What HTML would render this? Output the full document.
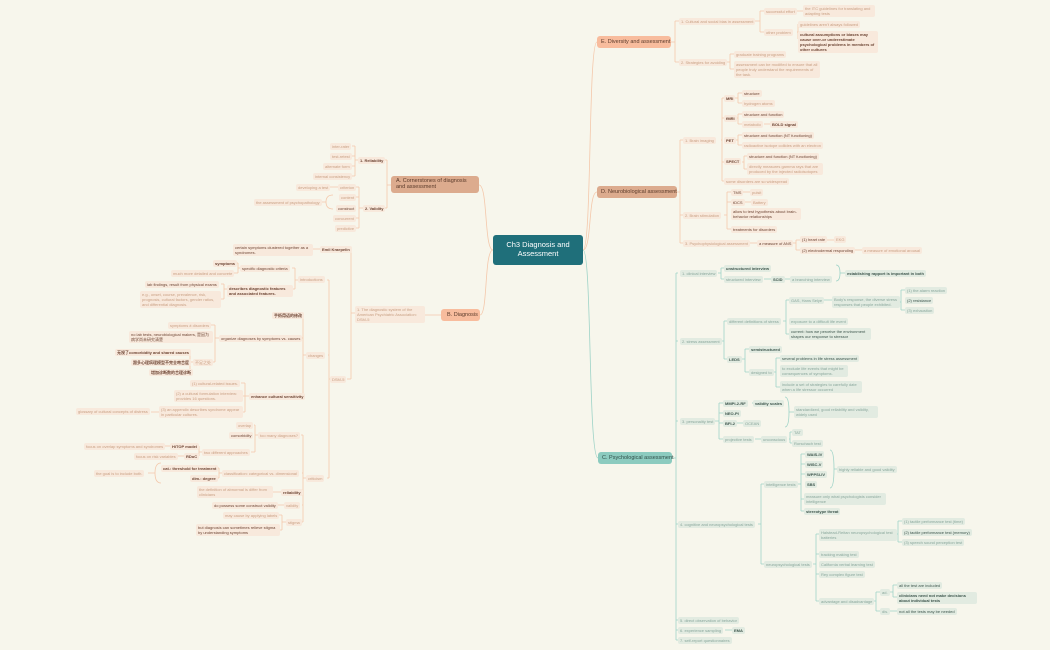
<!DOCTYPE html>
<html><head><meta charset="utf-8"><style>
body{margin:0;width:1050px;height:650px;background:#f7f6ec;position:relative;overflow:hidden;font-family:"Liberation Sans","Noto Sans CJK SC",sans-serif}
.n{position:absolute;font-size:4px;line-height:5px;padding:1px 2px;border-radius:2px;white-space:nowrap}
.w{white-space:normal}
.o{background:#f8e9dc;color:#c9a084}
.ob{background:#f8e9dc;color:#6e4635;font-weight:bold}
.g{background:#e2ebe1;color:#8aa79c}
.gb{background:#e2ebe1;color:#3e564d;font-weight:bold}
.m{position:absolute;font-size:5.5px;line-height:6px;padding:3px 4px;border-radius:3px;color:#5a3a2a;box-sizing:border-box;white-space:nowrap}
svg{position:absolute;left:0;top:0}
</style></head><body>
<svg width="1050" height="650" fill="none" stroke-width="0.8">
<g stroke="#f4c8ab">
<path d="M583,250 C592,250 588,42 597,42 M583,250 C592,250 588,192 597,192 M493,250 C484,250 488,185 479,185 M493,250 C484,250 488,315 480,315"/>
<path d="M671,42H675M675,21V62M675,21H679M675,62H679 M755,21H760M760,11V32M760,11H764M760,32H764 M797,11H803 M797,32H798M798,24V39 M727,62H730M730,54V69M730,54H734M730,69H734"/>
<path d="M677,192H680M680,140V243M680,140H683M680,215H683M680,243H683 M721,140H722M722,98V181M722,98H724M722,118H724M722,162H724M722,181H724 M735,98H738M738,93V103M738,93H742M738,103H742 M735,118H738M738,114V124M738,114H742M738,124H742 M764,124H770 M734,140H738M738,135V145M738,135H742M738,145H742 M742,162H744M744,156V169M744,156H747M744,169H747 M724,215H727M727,192V229M727,192H731M727,202H731M727,229H731 M742,192H750M745,202H751 M750,243H757M792,243H796M796,240V250M796,240H800M796,250H800M827,240H834M855,250H862"/>
<path d="M391,185H387M387,160V208M387,160H383M387,208H384 M358,160H355M355,146V176M355,146H352M355,156H352M355,166H352M355,176H352 M363,208H359M359,187V228M359,187H356M359,197H356M359,218H356M359,228H356 M338,187H329 M333,195 Q326,195 326,202 Q326,209 333,209 M326,202H322"/>
<path d="M441,315H424 M355,313H351M351,249V379M351,249H348M351,379H347 M320,249H311 M330,379H329M329,280V478M329,280H327M329,355H328M329,478H327 M298,280H295M295,268V289M295,268H292M295,289H291 M240,268H238M238,263V273M238,263H237M238,273H233 M227,289H224M224,284V299M224,284H221M224,299H219"/>
<path d="M306,355H303M303,315V396M303,315H300M303,338H300M303,396H300 M219,338H215M215,325V362M215,325H211M215,362H211 M193,362H190M190,352V372M190,352H186M190,372H186 M249,396H245M245,383V412M245,383H241M245,396H241M245,412H241 M159,412H151"/>
<path d="M306,478H303M303,435V522M303,435H301M303,473H302M303,492H302M303,505H302M303,522H300 M258,435H255M255,425V452M255,425H254M255,452H251 M202,452H199M199,446V456M199,446H197M199,456H197M170,446H163M184,456H175 M222,473H219M219,468V478M219,468H216M219,478H216 M161,463 Q155,463 155,473 Q155,483 161,483 M155,473H148 M281,492H272M284,505H277M286,522H282M282,515V530M282,515H278M282,530H278"/>
</g>
<g stroke="#9ed3c7">
<path d="M583,250 C592,250 588,458 598,458 M672,458H676M676,273V640M676,273H678M676,341H678M676,421H678M676,524H678M676,620H678M676,630H678M676,640H678"/>
<path d="M718,273H721M721,268V279M721,268H724M721,279H724M764,279H771M783,279H790 M836,265 Q840,265 840,273 Q840,281 836,281 M840,273H845"/>
<path d="M721,341H724M724,321V359M724,321H727M724,359H727 M783,321H786M786,300V334M786,300H789M786,334H789 M823,300H832 M898,302H901M901,290V310M901,290H905M901,310H905 M741,359H745M745,349V372M745,349H749M745,372H749 M772,372H776M776,358V387M776,358H780M776,387H780"/>
<path d="M715,421H719M719,403V439M719,403H723M719,413H723M719,423H723M719,439H723 M752,403H753M736,423H743M755,439H761 M785,397 Q789,397 789,412 Q789,427 785,427 M789,412H794 M789,439H790M790,432V443M790,432H792M790,443H792"/>
<path d="M758,524H761M761,484V564M761,484H764M761,564H764 M797,484H801M801,454V511M801,454H805M801,464H805M801,474H805M801,499H804M801,511H804 M830,450 Q834,450 834,469 Q834,488 830,488 M834,469H837 M813,564H816M816,534V601M816,534H819M816,554H819M816,574H819M816,601H819 M895,534H898M898,521V542M898,521H902M898,542H902 M872,601H876M876,592V611M876,592H880M876,611H880 M890,592H893M893,585V597M893,585H897M893,597H897M890,611H897 M725,630H732"/>
</g>
</svg>

<div class="m" style="left:493px;top:235px;width:90px;height:30px;background:#1f6f7a;color:#fff;font-size:7.5px;line-height:9px;text-align:center;padding-top:5px;white-space:normal">Ch3 Diagnosis and Assessment</div>
<div class="m" style="left:597px;top:36px;width:74px;height:12px;background:#f8bc9d">E. Diversity and assessment</div>
<div class="m" style="left:597px;top:186px;width:80px;height:12px;background:#dcab8e">D. Neurobiological assessment</div>
<div class="m" style="left:598px;top:452px;width:74px;height:12px;background:#8ccbbf;color:#2f4f48">C. Psychological assessment</div>
<div class="m" style="left:391px;top:176px;width:88px;height:17px;background:#dcab8e;line-height:6px;padding:2px 5px;white-space:normal">A. Cornerstones of diagnosis and assessment</div>
<div class="m" style="left:441px;top:309px;width:39px;height:12px;background:#f8bc9d;padding:3px 6px">B. Diagnosis</div>

<!-- E -->
<div class="n o" style="left:679px;top:18px">1. Cultural and social bias in assessment</div>
<div class="n o" style="left:764px;top:8px">successful effort</div>
<div class="n o w" style="left:803px;top:5px;width:68px">the ITC guidelines for translating and adapting tests</div>
<div class="n o" style="left:764px;top:29px">other problem</div>
<div class="n o" style="left:798px;top:21px">guidelines aren't always followed</div>
<div class="n ob w" style="left:798px;top:31px;width:76px">cultural assumptions or biases may cause over-or underestimate psychological problems in members of other cultures</div>
<div class="n o" style="left:679px;top:59px">2. Strategies for avoiding</div>
<div class="n o" style="left:734px;top:51px">graduate training programs</div>
<div class="n o w" style="left:734px;top:61px;width:82px">assessment can be modified to ensure that all people truly understand the requirements of the task.</div>
<!-- D -->
<div class="n o" style="left:683px;top:137px">1. Brain imaging</div>
<div class="n ob" style="left:724px;top:95px">MRI</div>
<div class="n ob" style="left:742px;top:90px;font-weight:normal">structure</div>
<div class="n o" style="left:742px;top:100px">hydrogen atoms</div>
<div class="n ob" style="left:724px;top:115px">fMRI</div>
<div class="n ob" style="left:742px;top:111px;font-weight:normal">structure and function</div>
<div class="n o" style="left:742px;top:121px">metabolic</div>
<div class="n ob" style="left:770px;top:121px">BOLD signal</div>
<div class="n ob" style="left:724px;top:137px">PET</div>
<div class="n ob" style="left:742px;top:132px;font-weight:normal">structure and function (NT functioning)</div>
<div class="n o" style="left:742px;top:142px">radioactive isotope collides with an electron</div>
<div class="n ob" style="left:724px;top:158px">SPECT</div>
<div class="n ob" style="left:747px;top:153px;font-weight:normal">structure and function (NT functioning)</div>
<div class="n o w" style="left:747px;top:163px;width:72px">directly measures gamma rays that are produced by the injected radioisotopes</div>
<div class="n o" style="left:724px;top:178px">some disorders are so widespread</div>
<div class="n o" style="left:683px;top:212px">2. Brain stimulation</div>
<div class="n ob" style="left:731px;top:189px;font-weight:normal">TMS</div>
<div class="n o" style="left:750px;top:189px">pulsit</div>
<div class="n ob" style="left:731px;top:199px;font-weight:normal">tDCS</div>
<div class="n o" style="left:751px;top:199px">Battery</div>
<div class="n ob w" style="left:731px;top:208px;width:66px;font-weight:normal">allow to test hypothesis about brain-behavior relationships</div>
<div class="n ob" style="left:731px;top:226px;font-weight:normal">treatments for disorders</div>
<div class="n o" style="left:683px;top:240px">3. Psychophysiological assessment</div>
<div class="n ob" style="left:757px;top:240px;font-weight:normal">a measure of ANS</div>
<div class="n ob" style="left:800px;top:236px;font-weight:normal">(1) heart rate</div>
<div class="n o" style="left:834px;top:236px">EKG</div>
<div class="n ob" style="left:800px;top:247px;font-weight:normal">(2) electrodermal responding</div>
<div class="n o" style="left:862px;top:247px">a measure of emotional arousal</div>
<!-- A -->
<div class="n ob" style="left:358px;top:157px">1. Reliability</div>
<div class="n o" style="left:330px;top:143px">inter-rater</div>
<div class="n o" style="left:330px;top:153px">test-retest</div>
<div class="n o" style="left:323px;top:163px">alternate form</div>
<div class="n o" style="left:313px;top:173px">internal consistency</div>
<div class="n ob" style="left:363px;top:205px">2. Validity</div>
<div class="n o" style="left:338px;top:184px">criterion</div>
<div class="n o" style="left:339px;top:194px">content</div>
<div class="n ob" style="left:336px;top:205px;font-weight:normal">construct</div>
<div class="n o" style="left:333px;top:215px">concurrent</div>
<div class="n o" style="left:335px;top:225px">predictive</div>
<div class="n o" style="left:296px;top:184px">developing a test</div>
<div class="n o" style="left:254px;top:199px">the assessment of psychopathology</div>
<!-- B -->
<div class="n o w" style="left:355px;top:306px;width:66px">1. The diagnostic system of the American Psychiatric Association: DSM-5</div>
<div class="n ob" style="left:320px;top:246px">Emil Kraepelin</div>
<div class="n ob w" style="left:233px;top:244px;width:76px;font-weight:normal">certain symptoms clustered together as a syndromes.</div>
<div class="n o" style="left:298px;top:276px">introductions</div>
<div class="n ob" style="left:240px;top:265px;font-weight:normal">specific diagnostic criteria</div>
<div class="n ob" style="left:213px;top:260px">symptoms</div>
<div class="n o" style="left:171px;top:270px">much more detailed and concrete</div>
<div class="n ob w" style="left:227px;top:285px;width:62px">describes diagnostic features and associated features.</div>
<div class="n ob" style="left:145px;top:281px;font-weight:normal">lab findings, result from physical exams</div>
<div class="n o w" style="left:140px;top:291px;width:77px">e.g., onset, course, prevalence, risk, prognosis, cultural factors, gender ratios, and differential diagnosis.</div>
<div class="n o" style="left:330px;top:376px">DSM-5</div>
<div class="n o" style="left:306px;top:352px">changes</div>
<div class="n ob" style="left:272px;top:312px">手術用语的修改</div>
<div class="n ob" style="left:219px;top:335px;font-weight:normal">organize diagnoses by symptoms vs. causes</div>
<div class="n o" style="left:168px;top:322px">symptoms ≠ disorders</div>
<div class="n ob w" style="left:129px;top:331px;width:80px;font-weight:normal">no lab tests, neurobiological makers, 是因为病学尚未研究清楚</div>
<div class="n o" style="left:193px;top:359px">不足之处</div>
<div class="n ob" style="left:115px;top:349px">无视了comorbidity and shared causes</div>
<div class="n ob" style="left:131px;top:359px">跟多心理病理模型不完全吻合度</div>
<div class="n ob" style="left:149px;top:369px">增加诊断数的合理诊断</div>
<div class="n ob" style="left:249px;top:393px">enhance cultural sensitivity</div>
<div class="n o" style="left:190px;top:380px">(1) cultural-related issues.</div>
<div class="n o w" style="left:174px;top:390px;width:65px">(2) a cultural formulation interview: provides 16 questions.</div>
<div class="n o w" style="left:159px;top:406px;width:80px">(3) an appendix describes syndrome appear in particular cultures.</div>
<div class="n o" style="left:76px;top:408px">glossary of cultural concepts of distress</div>
<div class="n o" style="left:306px;top:475px">criticism</div>
<div class="n o" style="left:258px;top:432px">too many diagnoses?</div>
<div class="n o" style="left:236px;top:422px">overlap</div>
<div class="n ob" style="left:229px;top:432px;font-weight:normal">comorbidity</div>
<div class="n o" style="left:202px;top:449px">two different approaches</div>
<div class="n ob" style="left:170px;top:443px">HiTOP model</div>
<div class="n o" style="left:84px;top:443px">focus on overlap symptoms and syndromes</div>
<div class="n ob" style="left:184px;top:453px">RDoC</div>
<div class="n o" style="left:134px;top:453px">focus on risk variables</div>
<div class="n o" style="left:222px;top:470px">classification: categorical vs. dimensional</div>
<div class="n ob" style="left:161px;top:465px">cat.: threshold for treatment</div>
<div class="n ob" style="left:190px;top:475px">dim.: degree</div>
<div class="n o" style="left:94px;top:470px">the goal is to include both.</div>
<div class="n ob" style="left:281px;top:489px">reliability</div>
<div class="n o w" style="left:197px;top:486px;width:72px">the definition of abnormal is differ from clinicians</div>
<div class="n o" style="left:284px;top:502px">validity</div>
<div class="n ob" style="left:212px;top:502px;font-weight:normal">do possess some construct validity</div>
<div class="n o" style="left:286px;top:519px">stigma</div>
<div class="n o" style="left:223px;top:512px">may cause by applying labels</div>
<div class="n ob w" style="left:196px;top:524px;width:80px;font-weight:normal">but diagnosis can sometimes relieve stigma by understanding symptoms</div>
<!-- C -->
<div class="n g" style="left:680px;top:270px">1. clinical interview</div>
<div class="n gb" style="left:724px;top:265px">unstructured interview</div>
<div class="n g" style="left:724px;top:276px">structured interview</div>
<div class="n gb" style="left:771px;top:276px">SCID</div>
<div class="n g" style="left:790px;top:276px">a branching interview</div>
<div class="n gb" style="left:845px;top:270px">establishing rapport is important in both</div>
<div class="n g" style="left:680px;top:338px">2. stress assessment</div>
<div class="n g" style="left:727px;top:318px">different definitions of stress</div>
<div class="n g" style="left:789px;top:297px">GAS, Hans Selye</div>
<div class="n g w" style="left:832px;top:296px;width:64px">Body's response, the diverse stress responses that people exhibited.</div>
<div class="n g" style="left:905px;top:287px">(1) the alarm reaction</div>
<div class="n gb" style="left:905px;top:297px;font-weight:normal">(2) resistance</div>
<div class="n g" style="left:905px;top:307px">(3) exhaustion</div>
<div class="n g" style="left:789px;top:318px">exposure to a difficult life event</div>
<div class="n gb w" style="left:789px;top:328px;width:78px;font-weight:normal">current: how we perceive the environment shapes our response to stressor</div>
<div class="n gb" style="left:727px;top:356px">LEDS</div>
<div class="n gb" style="left:749px;top:346px">semistructured</div>
<div class="n g" style="left:749px;top:369px">designed to</div>
<div class="n gb" style="left:780px;top:355px;font-weight:normal">several problems in life stress assessment</div>
<div class="n g w" style="left:780px;top:365px;width:64px">to exclude life events that might be consequences of symptoms.</div>
<div class="n g w" style="left:780px;top:381px;width:78px">include a set of strategies to carefully date when a life stressor occurred</div>
<div class="n g" style="left:680px;top:418px">3. personality test</div>
<div class="n gb" style="left:723px;top:400px">MMPI-2-RF</div>
<div class="n gb" style="left:753px;top:400px">validity scales</div>
<div class="n g w" style="left:794px;top:406px;width:80px">standardized, good reliability and validity, widely used</div>
<div class="n gb" style="left:723px;top:410px">NEO-PI</div>
<div class="n gb" style="left:723px;top:420px">BFI-2</div>
<div class="n g" style="left:743px;top:420px">OCEAN</div>
<div class="n g" style="left:723px;top:436px">projective tests</div>
<div class="n g" style="left:761px;top:436px">unconscious</div>
<div class="n g" style="left:792px;top:429px">TAT</div>
<div class="n g" style="left:792px;top:440px">Rorschach test</div>
<div class="n g" style="left:678px;top:521px">4. cognitive and neuropsychological tests</div>
<div class="n g" style="left:764px;top:481px">intelligence tests</div>
<div class="n gb" style="left:805px;top:451px">WAIS-IV</div>
<div class="n gb" style="left:805px;top:461px">WISC-V</div>
<div class="n gb" style="left:805px;top:471px">WPPSI-IV</div>
<div class="n gb" style="left:805px;top:481px">SBS</div>
<div class="n g" style="left:837px;top:466px">highly reliable and good validity</div>
<div class="n g w" style="left:804px;top:493px;width:78px">measure only what psychologists consider intelligence</div>
<div class="n gb" style="left:804px;top:508px">stereotype threat</div>
<div class="n g" style="left:764px;top:561px">neuropsychological tests</div>
<div class="n g w" style="left:819px;top:529px;width:74px">Halstead-Reitan neuropsychological test batteries</div>
<div class="n g" style="left:902px;top:518px">(1) tactile performance test (time)</div>
<div class="n gb" style="left:902px;top:529px;font-weight:normal">(2) tactile performance test (memory)</div>
<div class="n g" style="left:902px;top:539px">(3) speech sound perception test</div>
<div class="n g" style="left:819px;top:551px">tracking making test</div>
<div class="n g" style="left:819px;top:561px">California verbal learning test</div>
<div class="n g" style="left:819px;top:571px">Rey complex figure test</div>
<div class="n g" style="left:819px;top:598px">advantage and disadvantage</div>
<div class="n g" style="left:880px;top:589px">ad.</div>
<div class="n gb" style="left:897px;top:582px;font-weight:normal">all the test are included</div>
<div class="n gb w" style="left:897px;top:592px;width:76px">clinicians need not make decisions about individual tests</div>
<div class="n g" style="left:880px;top:608px">dis.</div>
<div class="n gb" style="left:897px;top:608px;font-weight:normal">not all the tests may be needed</div>
<div class="n g" style="left:678px;top:617px">5. direct observation of behavior</div>
<div class="n g" style="left:678px;top:627px">6. experience sampling</div>
<div class="n gb" style="left:732px;top:627px">EMA</div>
<div class="n g" style="left:678px;top:637px">7. self-report questionnaires</div>
</body></html>
